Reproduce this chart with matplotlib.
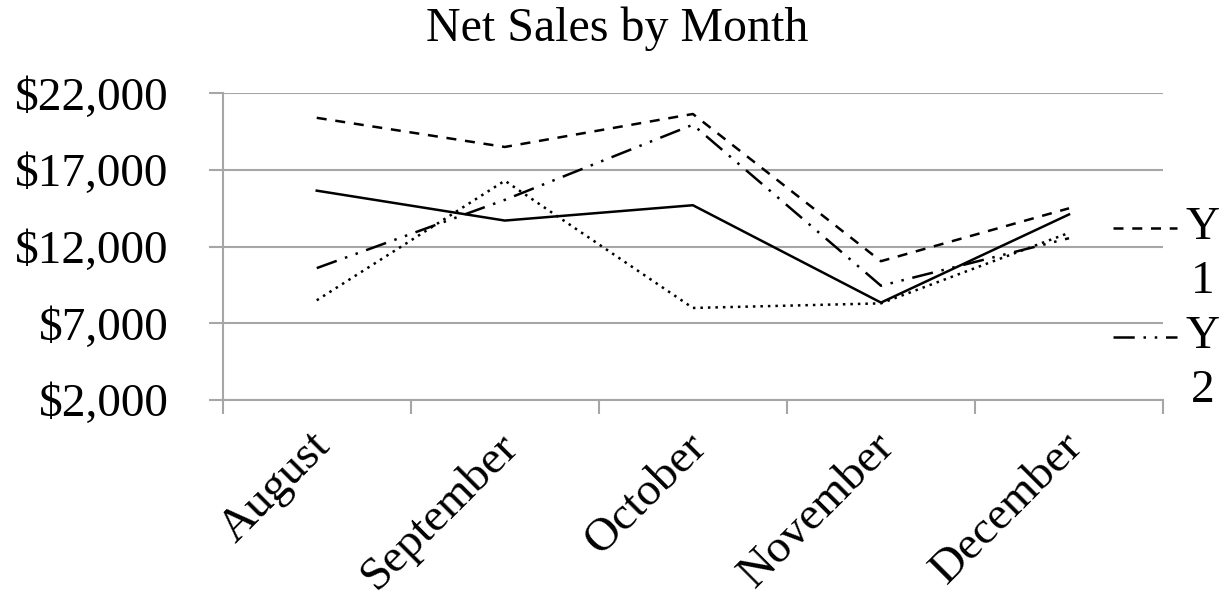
import matplotlib
matplotlib.use("Agg")
import matplotlib.pyplot as plt
from matplotlib.lines import Line2D
from matplotlib.ticker import FuncFormatter
from matplotlib.transforms import ScaledTranslation

plt.rcParams['font.family'] = ['Liberation Serif', 'DejaVu Serif']

# data
months = ['August', 'September', 'October', 'November', 'December']
y1 = [20400, 18500, 20650, 11050, 14500]   # dashed
y2 = [10600, 15050, 19950, 9450, 12550]    # dash-dot-dot
y3 = [15650, 13700, 14700, 8350, 14100]    # solid
y4 = [8500, 16300, 8000, 8300, 12900]      # dotted
legend_labels = ['Y\n1', 'Y\n2']

grid_col = '#a6a6a6'
lw = 1.8
fs = 34

fig = plt.figure(figsize=(12.23, 6.03), dpi=100)
ax = fig.add_axes([0.1821, 0.3367, 0.951 - 0.1821, 0.8453 - 0.3367])

x = range(len(months))
ax.plot(x, y1, color='black', lw=lw, linestyle=(0, (4, 3.5)))
ax.plot(x, y2, color='black', lw=lw, linestyle=(0, (8.5, 3.5, 1, 3.5, 1, 3.5)))
ax.plot(x, y3, color='black', lw=lw, linestyle='-')
ax.plot(x, y4, color='black', lw=lw, linestyle=(0, (1, 2)))

ax.set_xlim(-0.5, len(months) - 0.5)
ax.set_ylim(2000, 22000)
ax.set_yticks(range(2000, 22001, 5000))
ax.yaxis.set_major_formatter(FuncFormatter(lambda v, p: '${:,.0f}'.format(v)))
ax.grid(axis='y', color=grid_col, lw=1.5)
ax.set_axisbelow(True)

ax.set_xticks(list(x))
ax.set_xticklabels(months, rotation=45, ha='right', rotation_mode='anchor')
ax.set_xticks([i - 0.5 for i in range(len(months) + 1)], minor=True)
ax.tick_params(axis='x', which='major', length=0, pad=18, labelsize=fs)
ax.tick_params(axis='x', which='minor', length=10, width=1.5, color=grid_col, direction='out')
ax.tick_params(axis='y', length=10, width=1.5, color=grid_col, labelsize=fs, pad=29)
shift = ScaledTranslation(-6 / 72, 0, fig.dpi_scale_trans)
for lab in ax.get_xticklabels():
    lab.set_transform(lab.get_transform() + shift)

for s in ['top', 'right']:
    ax.spines[s].set_visible(False)
for s in ['left', 'bottom']:
    ax.spines[s].set_color(grid_col)
    ax.spines[s].set_linewidth(1.5)

fig.text(0.505, 0.953, 'Net Sales by Month', ha='center', va='center', fontsize=34.5)

# legend, clipped at the right edge like the original
for yy, ls, lab in [(0.6219, (0, (4, 3.5)), legend_labels[0]),
                    (0.4411, (0, (8.5, 3.5, 1, 3.5, 1, 3.5)), legend_labels[1])]:
    fig.add_artist(Line2D([1113 / 1223, 1177 / 1223], [yy, yy], transform=fig.transFigure,
                          color='black', lw=lw, linestyle=ls))
    top, bottom = lab.split('\n')
    fig.text(1203 / 1223, yy, top, ha='center', va='center', fontsize=fs)
    fig.text(1203 / 1223, yy - 0.0896, bottom, ha='center', va='center', fontsize=fs)

fig.savefig('out.png', dpi=100)
